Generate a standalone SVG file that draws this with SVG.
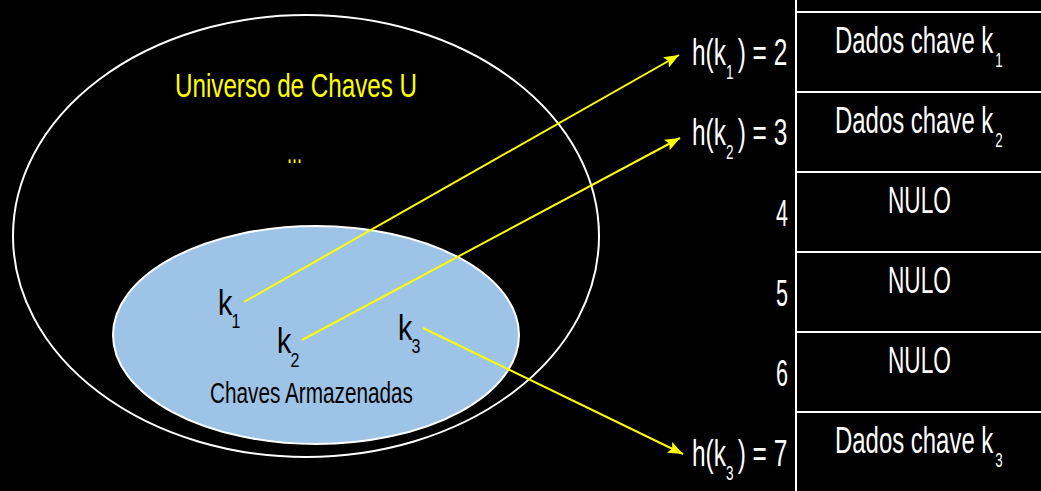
<svg xmlns="http://www.w3.org/2000/svg" width="1041" height="491" viewBox="0 0 1041 491">
<defs>
<style>
text{font-family:"Liberation Sans",Arial,sans-serif;}
.w{fill:#FFFFFF;font-size:36px;}
.k{fill:#000000;font-size:36px;}
.sub{font-size:20px;}
.big{font-size:36px;}
.y{fill:#FFFF00;font-size:34px;}
.cell{fill:#000000;stroke:#FFFFFF;stroke-width:2;}
.arr{stroke:#FFFF00;stroke-width:2;fill:none;marker-end:url(#ah);}
</style>
<marker id="ah" markerWidth="16" markerHeight="12" refX="15" refY="6" orient="auto" markerUnits="userSpaceOnUse">
<path d="M0,0 L15,6 L0,12 L3,6 Z" fill="#FFFF00"/>
</marker>
</defs>
<rect x="0" y="0" width="1041" height="491" fill="#000000"/>
<g id="universe">
<ellipse cx="306" cy="236" rx="293" ry="221" fill="none" stroke="#FFFFFF" stroke-width="2"/>
<text class="y" x="175" y="97" textLength="242" lengthAdjust="spacingAndGlyphs">Universo de Chaves U</text>
<text class="y" x="287" y="163" textLength="15" lengthAdjust="spacingAndGlyphs">...</text>
</g>
<g id="stored">
<ellipse cx="316" cy="335" rx="203" ry="109" fill="#9DC3E6" stroke="#FFFFFF" stroke-width="2"/>
<text class="k" x="210" y="403" style="font-size:29px" textLength="203" lengthAdjust="spacingAndGlyphs">Chaves Armazenadas</text>
</g>
<g id="key-k1">
<text class="k" transform="translate(218,315) scale(0.8,1)">k<tspan class="sub" dx="-1" dy="13">1</tspan></text>
</g>
<g id="key-k2">
<text class="k" transform="translate(277,353) scale(0.8,1)">k<tspan class="sub" dx="-1" dy="14">2</tspan></text>
</g>
<g id="key-k3">
<text class="k" transform="translate(398,340) scale(0.8,1)">k<tspan class="sub" dx="-1" dy="13">3</tspan></text>
</g>
<g id="table">
<g id="row-1"><rect class="cell" x="796" y="-68" width="246" height="80"/></g>
<g id="row-2">
<rect class="cell" x="796" y="12" width="246" height="80"/>
<text class="w" transform="translate(835,53) scale(0.665,1)">Dados chave k<tspan class="sub" dx="3" dy="14">1</tspan></text>
<text class="w" transform="translate(692,65) scale(0.68,1)">h(k<tspan class="sub" dy="14">1</tspan><tspan class="big" dx="6" dy="-14">) = 2</tspan></text>
</g>
<g id="row-3">
<rect class="cell" x="796" y="92" width="246" height="80"/>
<text class="w" transform="translate(835,133) scale(0.665,1)">Dados chave k<tspan class="sub" dx="3" dy="14">2</tspan></text>
<text class="w" transform="translate(692,145) scale(0.68,1)">h(k<tspan class="sub" dy="14">2</tspan><tspan class="big" dx="6" dy="-14">) = 3</tspan></text>
</g>
<g id="row-4">
<rect class="cell" x="796" y="172" width="246" height="80"/>
<text class="w" x="888" y="213" textLength="63" lengthAdjust="spacingAndGlyphs">NULO</text>
<text class="w" x="776" y="226" textLength="12" lengthAdjust="spacingAndGlyphs">4</text>
</g>
<g id="row-5">
<rect class="cell" x="796" y="252" width="246" height="80"/>
<text class="w" x="888" y="293" textLength="63" lengthAdjust="spacingAndGlyphs">NULO</text>
<text class="w" x="776" y="306" textLength="12" lengthAdjust="spacingAndGlyphs">5</text>
</g>
<g id="row-6">
<rect class="cell" x="796" y="332" width="246" height="80"/>
<text class="w" x="888" y="373" textLength="63" lengthAdjust="spacingAndGlyphs">NULO</text>
<text class="w" x="776" y="386" textLength="12" lengthAdjust="spacingAndGlyphs">6</text>
</g>
<g id="row-7">
<rect class="cell" x="796" y="412" width="246" height="80"/>
<text class="w" transform="translate(835,453) scale(0.665,1)">Dados chave k<tspan class="sub" dx="3" dy="14">3</tspan></text>
<text class="w" transform="translate(692,466) scale(0.68,1)">h(k<tspan class="sub" dy="14">3</tspan><tspan class="big" dx="6" dy="-14">) = 7</tspan></text>
</g>
</g>
<g id="connectors">
<line class="arr" x1="244" y1="302" x2="679" y2="55"/>
<line class="arr" x1="302" y1="340" x2="680" y2="138"/>
<line class="arr" x1="423" y1="328" x2="683" y2="454"/>
</g>
</svg>
